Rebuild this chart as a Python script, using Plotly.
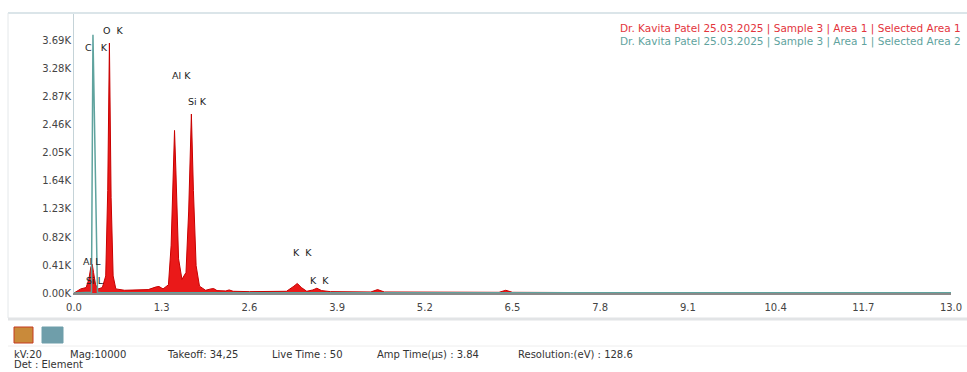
import plotly.graph_objects as go

# ---------------- data ----------------
area1_energy = [0.00, 0.05, 0.10, 0.18, 0.22, 0.25, 0.27, 0.29, 0.32, 0.36, 0.42, 0.47, 0.50, 0.525,
                0.55, 0.58, 0.62, 0.75, 0.95, 1.10, 1.22, 1.26, 1.32, 1.40, 1.44, 1.47, 1.49, 1.51,
                1.55, 1.60, 1.66, 1.70, 1.74, 1.77, 1.81, 1.86, 1.95, 2.03, 2.07, 2.12, 2.25, 2.30,
                2.36, 2.60, 3.15, 3.26, 3.31, 3.37, 3.45, 3.54, 3.60, 3.67, 3.80, 4.40, 4.50, 4.60,
                6.30, 6.40, 6.50, 8.00, 13.00]
area1_counts = [0, 30, 60, 80, 200, 380, 420, 300, 120, 60, 80, 250, 1500, 3660,
                1400, 250, 60, 40, 40, 50, 90, 95, 60, 120, 700, 1900, 2380, 1800,
                500, 200, 300, 1200, 2620, 1500, 400, 100, 40, 60, 65, 35, 30, 45,
                25, 20, 25, 100, 140, 80, 25, 45, 70, 35, 20, 15, 50, 15,
                10, 40, 10, 5, 5]

area2_energy = [0.00, 0.20, 0.259, 0.281, 0.348, 0.40, 13.00]
area2_counts = [0, 5, 10, 3780, 10, 5, 5]

x_ticks = [0.0, 1.3, 2.6, 3.9, 5.2, 6.5, 7.8, 9.1, 10.4, 11.7, 13.0]
y_ticks = [0, 410, 820, 1230, 1640, 2050, 2460, 2870, 3280, 3690]
y_labels = ["0.00K", "0.41K", "0.82K", "1.23K", "1.64K", "2.05K", "2.46K", "2.87K", "3.28K", "3.69K"]

peak_labels = ["O  K", "C   K", "Al K", "Si K", "K  K", "K  K", "Al L", "Si L"]
peak_label_x = [0.58, 0.34, 1.60, 1.83, 3.39, 3.64, 0.27, 0.31]
peak_label_y = [3850, 3590, 3180, 2800, 590, 190, 455, 190]

series_names = ["Dr. Kavita Patel 25.03.2025 | Sample 3 | Area 1 | Selected Area 1",
                "Dr. Kavita Patel 25.03.2025 | Sample 3 | Area 1 | Selected Area 2"]
info_texts = ["kV:20", "Mag:10000", "Takeoff: 34,25", "Live Time : 50",
              "Amp Time(µs) : 3.84", "Resolution:(eV) : 128.6"]

# ---------------- layout constants ----------------
W, H = 967, 372
L, R, T, B = 74, 16, 14, 79
PW, PH = W - L - R, H - T - B
FONT = "DejaVu Sans, Verdana, sans-serif"
TEAL = "#5fa39e"


def px(x):
    return (x - L) / PW


def py(y):
    return (H - B - y) / PH


fig = go.Figure()
fig.add_trace(go.Scatter(x=area1_energy, y=area1_counts, mode="lines", name=series_names[0],
                         line=dict(color="#c80000", width=1),
                         fill="tozeroy", fillcolor="rgba(232,0,0,0.9)"))
fig.add_trace(go.Scatter(x=area2_energy, y=area2_counts, mode="lines", name=series_names[1],
                         line=dict(color=TEAL, width=1.5)))

annotations = []
for t, x, y in zip(peak_labels, peak_label_x, peak_label_y):
    annotations.append(dict(x=x, y=y, xref="x", yref="y", text=t, showarrow=False,
                            font=dict(family=FONT, size=9.5, color="#222")))

for i, (t, c) in enumerate(zip(series_names, ["#e3343c", TEAL])):
    annotations.append(dict(x=px(963), y=py(29 + 12 * i), xref="paper", yref="paper", text=t,
                            showarrow=False, xanchor="right", yanchor="middle",
                            font=dict(family=FONT, size=10.5, color=c)))

info_x = [12, 68, 165, 270, 375, 516]
for t, x in zip(info_texts, info_x):
    annotations.append(dict(x=px(x), y=py(354), xref="paper", yref="paper", text=t,
                            showarrow=False, xanchor="left", yanchor="middle",
                            font=dict(family=FONT, size=10, color="#333")))
annotations.append(dict(x=px(12), y=py(364), xref="paper", yref="paper", text="Det : Element",
                        showarrow=False, xanchor="left", yanchor="middle",
                        font=dict(family=FONT, size=10, color="#333")))

shapes = [
    dict(type="line", xref="paper", yref="paper", x0=px(8), x1=px(967), y0=py(13), y1=py(13),
         line=dict(color="#cfdde2", width=1.5)),
    dict(type="line", xref="paper", yref="paper", x0=px(8), x1=px(8), y0=py(13), y1=py(318),
         line=dict(color="#e4e8ea", width=1)),
    dict(type="line", xref="paper", yref="paper", x0=px(8), x1=px(967), y0=py(319), y1=py(319),
         line=dict(color="#e2e4e6", width=3)),
    dict(type="line", xref="paper", yref="paper", x0=px(8), x1=px(967), y0=py(346), y1=py(346),
         line=dict(color="#eeeeee", width=1)),
    dict(type="rect", xref="paper", yref="paper", x0=px(14), x1=px(33), y0=py(343), y1=py(327),
         fillcolor="#c98a3a", line=dict(color="#c43a20", width=1)),
    dict(type="rect", xref="paper", yref="paper", x0=px(42), x1=px(63), y0=py(343), y1=py(327),
         fillcolor="#6f9eaa", line=dict(color="#6f9eaa", width=1)),
]

fig.update_layout(
    width=W, height=H, margin=dict(l=L, r=R, t=T, b=B),
    paper_bgcolor="white", plot_bgcolor="white", showlegend=False,
    font=dict(family=FONT, size=10, color="#333"),
    annotations=annotations, shapes=shapes,
    xaxis=dict(range=[0, 13.0], tickvals=x_ticks, ticktext=[f"{v:.1f}" for v in x_ticks],
               showgrid=False, zeroline=False, showline=True, linecolor="#8a8a8a", linewidth=1.5,
               ticks="", tickfont=dict(size=10, color="#444"), automargin=False,
               ticklabelstandoff=4),
    yaxis=dict(range=[0, 4085], tickvals=y_ticks, ticktext=y_labels, showgrid=False,
               zeroline=False, showline=True, linecolor="#c5d3d8", linewidth=1,
               ticks="", tickfont=dict(size=10, color="#444"), automargin=False),
)

fig.write_html("out.html", config={"displayModeBar": False},
               post_script="document.body.style.margin='0';document.body.style.overflow='hidden';")
